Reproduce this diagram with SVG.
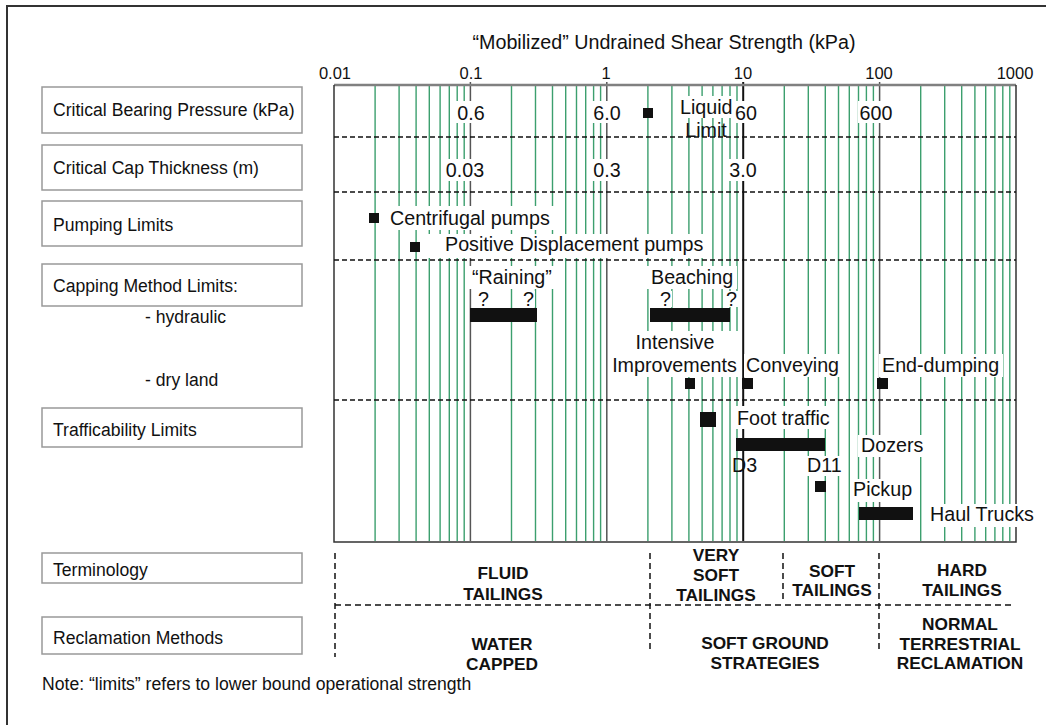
<svg xmlns="http://www.w3.org/2000/svg" width="1046" height="725" viewBox="0 0 1046 725">
<style>
text{font-family:"Liberation Sans",Arial,sans-serif;fill:#111}
.lbl{font-size:17.6px}
.ch{font-size:19.7px}
.ax{font-size:16.5px}
.b{font-size:17.3px;font-weight:bold;text-anchor:middle}
.m{text-anchor:middle}
.box{fill:#fff;stroke:#999;stroke-width:1.5}
.bg{fill:#fff}
.blk{fill:#111}
.grid{stroke:#3c9f6e;stroke-width:1.4;fill:none}
.dec{stroke:#555;stroke-width:1.5;fill:none}
.dash{stroke:#111;stroke-width:1.4;stroke-dasharray:5 3;fill:none}
.dash2{stroke:#111;stroke-width:1.5;stroke-dasharray:6 4;fill:none}
</style>
<rect width="1046" height="725" fill="#fff"/>
<rect x="7" y="6" width="1200" height="900" fill="none" stroke="#333" stroke-width="2"/>

<g id="title">
<text class="ch m" x="664" y="49">“Mobilized” Undrained Shear Strength (kPa)</text>
<text class="ax m" x="335" y="79">0.01</text>
<text class="ax m" x="471" y="79">0.1</text>
<text class="ax m" x="606" y="79">1</text>
<text class="ax m" x="743" y="79">10</text>
<text class="ax m" x="879" y="79">100</text>
<text class="ax m" x="1015" y="79">1000</text>
</g>

<g id="row-labels">
<g id="lbl-bearing"><rect class="box" x="42" y="87" width="260" height="46"/><text class="lbl" x="53" y="116">Critical Bearing Pressure (kPa)</text></g>
<g id="lbl-cap"><rect class="box" x="42" y="145" width="260" height="45"/><text class="lbl" x="53" y="174">Critical Cap Thickness (m)</text></g>
<g id="lbl-pumping"><rect class="box" x="42" y="201" width="260" height="45"/><text class="lbl" x="53" y="231">Pumping Limits</text></g>
<g id="lbl-capping"><rect class="box" x="42" y="264" width="260" height="42"/><text class="lbl" x="53" y="292">Capping Method Limits:</text>
<text class="lbl" x="145" y="323">- hydraulic</text><text class="lbl" x="145" y="386">- dry land</text></g>
<g id="lbl-traffic"><rect class="box" x="42" y="408" width="260" height="39"/><text class="lbl" x="53" y="436">Trafficability Limits</text></g>
<g id="lbl-terminology"><rect class="box" x="42" y="553" width="260" height="30"/><text class="lbl" x="53" y="576">Terminology</text></g>
<g id="lbl-reclamation"><rect class="box" x="42" y="617" width="260" height="37"/><text class="lbl" x="53" y="644">Reclamation Methods</text></g>
<text id="note" class="lbl" x="42" y="690">Note: “limits” refers to lower bound operational strength</text>
</g>

<g id="chart-grid">
<path class="grid" d="M375.1 86V541M399.1 86V541M416.1 86V541M429.3 86V541M440.1 86V541M449.3 86V541M457.2 86V541M464.2 86V541
M511.5 86V541M535.5 86V541M552.5 86V541M565.7 86V541M576.5 86V541M585.7 86V541M593.6 86V541M600.6 86V541
M647.9 86V541M671.9 86V541M688.9 86V541M702.1 86V541M712.9 86V541M722.1 86V541M730 86V541M737 86V541
M784.3 86V541M808.3 86V541M825.3 86V541M838.5 86V541M849.3 86V541M858.5 86V541M866.4 86V541M873.4 86V541
M920.7 86V541M944.7 86V541M961.7 86V541M974.9 86V541M985.7 86V541M994.9 86V541M1002.8 86V541M1009.8 86V541"/>
<path class="dec" d="M470.4 82V541M606.8 82V541M879.6 82V541"/>
<path d="M743.2 82V541" stroke="#111" stroke-width="2" fill="none"/>
<path d="M334 85H1016" stroke="#808080" stroke-width="2.5"/>
<path d="M334 85V542H1016V85" stroke="#333" stroke-width="1.5" fill="none"/>
</g>

<g id="connectors">
<path class="dash" d="M334 137H1016M334 192H1016M334 260H1016M334 400H1016"/>
<path class="dash2" d="M335 553V657M650 553V653M783 553V603M879 553V653M335 605H1015"/>
</g>

<g id="bearing">
<rect class="bg" x="456" y="101" width="31" height="22"/><text class="ch m" x="471" y="120">0.6</text>
<rect class="bg" x="592" y="101" width="31" height="22"/><text class="ch m" x="607" y="120">6.0</text>
<rect class="bg" x="733" y="101" width="26" height="22"/><text class="ch m" x="746" y="120">60</text>
<rect class="bg" x="858" y="101" width="37" height="22"/><text class="ch m" x="876" y="120">600</text>
<g id="liquid-limit"><rect class="blk" x="643" y="108" width="10" height="10"/>
<rect class="bg" x="678" y="96" width="55" height="22"/><text class="ch" x="680" y="114">Liquid</text>
<text class="ch m" x="706" y="137">Limit</text></g>
</g>

<g id="cap-thickness">
<rect class="bg" x="444" y="159" width="42" height="22"/><text class="ch m" x="465" y="177">0.03</text>
<rect class="bg" x="591" y="159" width="32" height="22"/><text class="ch m" x="607" y="177">0.3</text>
<rect class="bg" x="727" y="159" width="32" height="22"/><text class="ch m" x="743" y="177">3.0</text>
</g>

<g id="pumping">
<g id="centrifugal"><rect class="blk" x="369" y="213" width="10" height="10"/>
<rect class="bg" x="386" y="206" width="169" height="24"/><text class="ch" x="390" y="225">Centrifugal pumps</text></g>
<g id="positive"><rect class="blk" x="410" y="242" width="10" height="10"/>
<rect class="bg" x="424" y="234" width="288" height="24"/><text class="ch" x="445" y="251">Positive Displacement pumps</text></g>
</g>

<g id="capping">
<g id="raining"><rect class="bg" x="468" y="266" width="88" height="23"/><text class="ch" x="472" y="284">“Raining”</text>
<rect class="bg" x="476" y="291" width="14" height="16"/><text class="ch" x="478" y="306">?</text>
<rect class="bg" x="521" y="291" width="14" height="16"/><text class="ch" x="523" y="306">?</text>
<rect class="blk" x="470" y="308" width="67" height="14"/></g>
<g id="beaching"><rect class="bg" x="647" y="266" width="90" height="23"/><text class="ch" x="651" y="284">Beaching</text>
<rect class="bg" x="658" y="291" width="14" height="16"/><text class="ch" x="660" y="306">?</text>
<rect class="bg" x="724" y="291" width="14" height="16"/><text class="ch" x="726" y="306">?</text>
<rect class="blk" x="650" y="308" width="80" height="14"/></g>
<g id="intensive"><rect class="bg" x="608" y="331" width="133" height="46"/>
<text class="ch m" x="675" y="349">Intensive</text><text class="ch m" x="674.5" y="372">Improvements</text>
<rect class="blk" x="685" y="378" width="10" height="11"/></g>
<g id="conveying"><rect class="bg" x="744" y="354" width="98" height="23"/><text class="ch" x="746" y="372">Conveying</text>
<rect class="blk" x="742" y="378" width="11" height="11"/></g>
<g id="end-dumping"><rect class="bg" x="879" y="354" width="124" height="23"/><text class="ch" x="882" y="372">End-dumping</text>
<rect class="blk" x="877" y="378" width="11" height="11"/></g>
</g>

<g id="trafficability">
<g id="foot"><rect class="blk" x="700" y="412" width="16" height="15"/>
<rect class="bg" x="734" y="406" width="102" height="23"/><text class="ch" x="737" y="425">Foot traffic</text></g>
<g id="dozers"><rect class="blk" x="736" y="438" width="89" height="13"/>
<rect class="bg" x="858" y="435" width="69" height="22"/><text class="ch" x="861" y="452">Dozers</text>
<text class="ch" x="732" y="472">D3</text>
<rect class="bg" x="804" y="456" width="38" height="20"/><text class="ch" x="807" y="472">D11</text></g>
<g id="pickup"><rect class="blk" x="815" y="481" width="11" height="11"/>
<rect class="bg" x="850" y="479" width="66" height="23"/><text class="ch" x="853" y="496">Pickup</text></g>
<g id="haul"><rect class="blk" x="859" y="507" width="54" height="13"/>
<rect class="bg" x="927" y="504" width="113" height="23"/><text class="ch" x="930" y="521">Haul Trucks</text></g>
</g>

<g id="terminology">
<g id="fluid"><text class="b" x="503" y="579">FLUID</text><text class="b" x="503" y="600">TAILINGS</text></g>
<g id="very-soft"><text class="b" x="716" y="561">VERY</text><text class="b" x="716" y="581">SOFT</text><text class="b" x="716" y="601">TAILINGS</text></g>
<g id="soft"><text class="b" x="832" y="577">SOFT</text><text class="b" x="832" y="596">TAILINGS</text></g>
<g id="hard"><text class="b" x="962" y="576">HARD</text><text class="b" x="962" y="596">TAILINGS</text></g>
</g>

<g id="reclamation">
<g id="water"><text class="b" x="502" y="650">WATER</text><text class="b" x="502" y="670">CAPPED</text></g>
<g id="soft-ground"><text class="b" x="765" y="649">SOFT GROUND</text><text class="b" x="765" y="669">STRATEGIES</text></g>
<g id="normal"><text class="b" x="960" y="630">NORMAL</text><text class="b" x="960" y="650">TERRESTRIAL</text><text class="b" x="960" y="669">RECLAMATION</text></g>
</g>
</svg>
